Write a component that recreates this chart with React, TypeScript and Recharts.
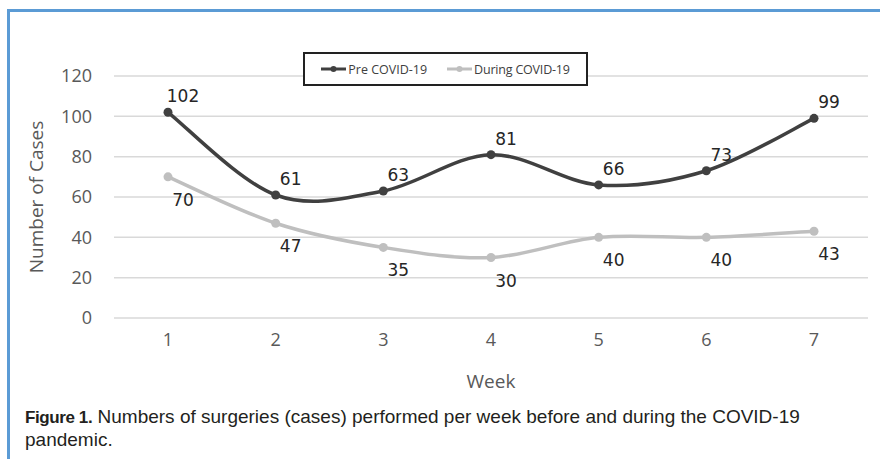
import React from 'react';
import { LineChart, Line, XAxis, YAxis, CartesianGrid, Legend, LabelList } from 'recharts';

const weeks = ['1', '2', '3', '4', '5', '6', '7'];
const preCovid = [102, 61, 63, 81, 66, 73, 99];
const duringCovid = [70, 47, 35, 30, 40, 40, 43];
const yTicks = [0, 20, 40, 60, 80, 100, 120];

const data = weeks.map((w, i) => ({ week: w, pre: preCovid[i], during: duringCovid[i] }));

const PRE = '#404040';
const DURING = '#bfbfbf';

// Catmull-Rom style smoothing (similar to spreadsheet "smoothed line")
const smoothCurve: any = (context: any) => {
  let xs: number[] = [];
  let ys: number[] = [];
  return {
    areaStart() {},
    areaEnd() {},
    lineStart() { xs = []; ys = []; },
    lineEnd() {
      const n = xs.length;
      if (!n) return;
      context.moveTo(xs[0], ys[0]);
      for (let i = 0; i < n - 1; i++) {
        const p0 = i > 0 ? i - 1 : i;
        const p3 = i + 2 < n ? i + 2 : i + 1;
        const c1x = xs[i] + (xs[i + 1] - xs[p0]) / 6;
        const c1y = ys[i] + (ys[i + 1] - ys[p0]) / 6;
        const c2x = xs[i + 1] - (xs[p3] - xs[i]) / 6;
        const c2y = ys[i + 1] - (ys[p3] - ys[i]) / 6;
        context.bezierCurveTo(c1x, c1y, c2x, c2y, xs[i + 1], ys[i + 1]);
      }
    },
    point(x: number, y: number) { xs.push(+x); ys.push(+y); },
  };
};

const makeLabel = (dy: number) => (props: any) => {
  const { x, y, value } = props;
  return (
    <text x={x + 15} y={y + dy} textAnchor="middle" dominantBaseline="central"
      fontFamily="DejaVu Sans" fontSize={17} fill="#262626">{value}</text>
  );
};

const LegendContent = () => (
  <div style={{ display: 'flex', alignItems: 'center', justifyContent: 'center', height: '100%', fontFamily: 'Open Sans', fontSize: 12.5, color: '#404040' }}>
    <svg width={25} height={10}><line x1={0} y1={5} x2={25} y2={5} stroke={PRE} strokeWidth={3} /><circle cx={12.5} cy={5} r={3} fill={PRE} /></svg>
    <span style={{ marginLeft: 2, marginRight: 20 }}>Pre COVID-19</span>
    <svg width={25} height={10}><line x1={0} y1={5} x2={25} y2={5} stroke={DURING} strokeWidth={3} /><circle cx={12.5} cy={5} r={3} fill={DURING} /></svg>
    <span style={{ marginLeft: 2, letterSpacing: -0.2 }}>During COVID-19</span>
  </div>
);

const axisFont = { fontFamily: 'Open Sans', fontSize: 18, fill: '#595959' };
const titleFont = { fontFamily: 'Open Sans', fontSize: 19, fill: '#595959' };

export default function App() {
  return (
    <div style={{ position: 'fixed', left: 0, top: 0, width: 880, height: 459, background: '#fff', overflow: 'hidden' }}>
      <div style={{ position: 'absolute', left: 7, top: 9, width: 880, height: 2.5, background: '#5b9bd5' }} />
      <div style={{ position: 'absolute', left: 7, top: 9, width: 2.5, height: 460, background: '#5b9bd5' }} />
      <div style={{ position: 'absolute', left: 0, top: 0 }}>
        <LineChart width={880} height={459} data={data} margin={{ top: 76, right: 12, bottom: 71, left: 24 }}>
          <CartesianGrid vertical={false} stroke="#d9d9d9" strokeWidth={1.5} />
          <XAxis dataKey="week" axisLine={false} tickLine={false} tickSize={0} tickMargin={15} height={70}
            padding={{ left: 54, right: 54 }}
            tick={axisFont}
            label={{ value: 'Week', position: 'insideBottom', offset: 0, style: titleFont }} />
          <YAxis domain={[0, 120]} ticks={yTicks} axisLine={false} tickLine={false} tickSize={0} tickMargin={22} width={90}
            tick={axisFont}
            label={{ value: 'Number of Cases', angle: -90, position: 'insideLeft', offset: 12, style: { ...titleFont, textAnchor: 'middle' } }} />
          <Legend verticalAlign="middle" align="center" layout="horizontal" content={<LegendContent />}
            wrapperStyle={{ left: 303, top: 52, width: 285, height: 34, border: '2px solid #222', background: '#fff', boxSizing: 'border-box' }} />
          <Line type={smoothCurve} dataKey="pre" name="Pre COVID-19" stroke={PRE} strokeWidth={3.5}
            dot={{ r: 4.5, fill: PRE, stroke: PRE, strokeWidth: 0 }} isAnimationActive={false}>
            <LabelList dataKey="pre" content={makeLabel(-16)} />
          </Line>
          <Line type={smoothCurve} dataKey="during" name="During COVID-19" stroke={DURING} strokeWidth={3.5}
            dot={{ r: 4.5, fill: DURING, stroke: DURING, strokeWidth: 0 }} isAnimationActive={false}>
            <LabelList dataKey="during" content={makeLabel(23)} />
          </Line>
        </LineChart>
      </div>
      <div style={{ position: 'absolute', left: 25, top: 406, width: 840, fontSize: 19, lineHeight: '22px', color: '#231f20', fontFamily: 'Liberation Sans', whiteSpace: 'nowrap' }}>
        <div><b style={{ fontSize: 17, letterSpacing: -0.4 }}>Figure 1.</b> Numbers of surgeries (cases) performed per week before and during the COVID-19</div>
        <div>pandemic.</div>
      </div>
    </div>
  );
}
